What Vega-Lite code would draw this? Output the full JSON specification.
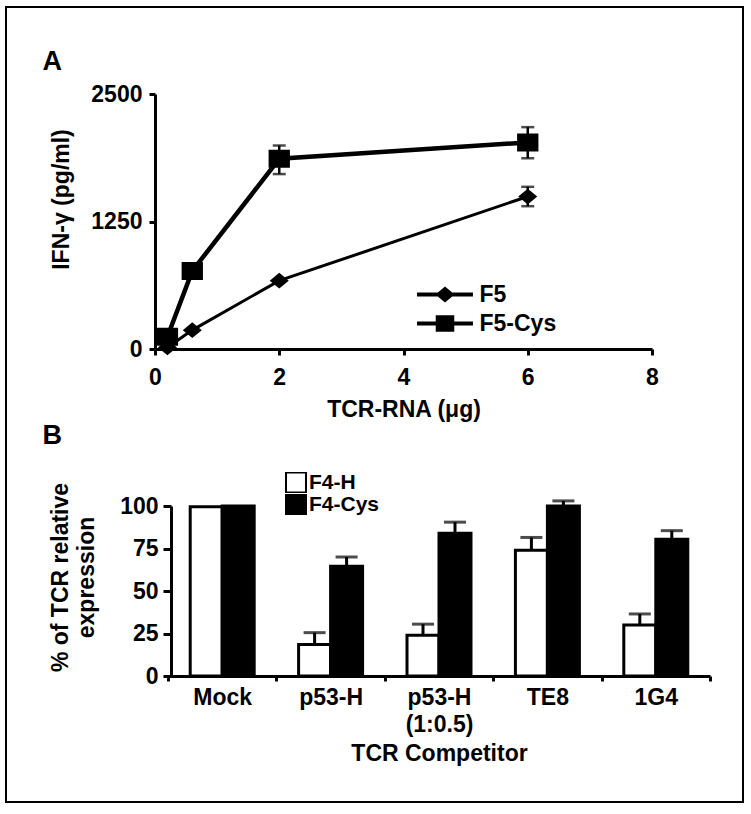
{
  "$schema": "https://vega.github.io/schema/vega-lite/v6.json",
  "width": 737,
  "height": 795,
  "autosize": {"type": "none"},
  "padding": {"left": 6, "top": 7, "right": 8, "bottom": 12},
  "background": "white",
  "datasets": {
    "ifn": [
      {"series": "F5", "dose": 0.2, "ifn": 15},
      {"series": "F5", "dose": 0.6, "ifn": 185},
      {"series": "F5", "dose": 2, "ifn": 670},
      {"series": "F5", "dose": 6, "ifn": 1495, "lo": 1400, "hi": 1590},
      {"series": "F5-Cys", "dose": 0.2, "ifn": 120},
      {"series": "F5-Cys", "dose": 0.6, "ifn": 765},
      {"series": "F5-Cys", "dose": 2, "ifn": 1865, "lo": 1715, "hi": 1995},
      {"series": "F5-Cys", "dose": 6, "ifn": 2025, "lo": 1870, "hi": 2175}
    ],
    "tcr": [
      {"comp": "Mock", "series": "F4-H", "val": 99.5},
      {"comp": "Mock", "series": "F4-Cys", "val": 100},
      {"comp": "p53-H", "series": "F4-H", "val": 18.5, "hi": 25.5},
      {"comp": "p53-H", "series": "F4-Cys", "val": 64.5, "hi": 70},
      {"comp": "p53-H (1:0.5)", "series": "F4-H", "val": 24, "hi": 30.5},
      {"comp": "p53-H (1:0.5)", "series": "F4-Cys", "val": 84, "hi": 90.5},
      {"comp": "TE8", "series": "F4-H", "val": 74, "hi": 81.5},
      {"comp": "TE8", "series": "F4-Cys", "val": 100, "hi": 103},
      {"comp": "1G4", "series": "F4-H", "val": 30, "hi": 36.5},
      {"comp": "1G4", "series": "F4-Cys", "val": 80.5, "hi": 85.5}
    ]
  },
  "config": {
    "view": {"stroke": "black", "strokeWidth": 2},
    "font": "Liberation Sans",
    "axis": {
      "grid": false,
      "domainColor": "black", "domainWidth": 3,
      "tickColor": "black", "tickWidth": 3,
      "labelColor": "black", "labelFont": "Liberation Sans", "labelFontSize": 23, "labelFontWeight": "bold",
      "titleColor": "black", "titleFont": "Liberation Sans", "titleFontSize": 23, "titleFontWeight": "bold",
      "labelFlush": false, "labelOverlap": false
    },
    "legend": {
      "labelColor": "black", "labelFont": "Liberation Sans", "labelFontSize": 23, "labelFontWeight": "bold",
      "padding": 0
    }
  },
  "resolve": {"scale": {"x": "independent", "y": "independent"}},
  "layer": [
    {
      "data": {"name": "ifn"},
      "resolve": {"scale": {"y": "independent"}},
      "layer": [
        {
          "layer": [
            {
              "mark": {"type": "line", "color": "black"},
              "encoding": {
                "x": {
                  "field": "dose", "type": "quantitative",
                  "scale": {"domain": [0, 8], "range": [149, 646], "nice": false, "zero": false},
                  "axis": {"orient": "bottom", "offset": -453, "values": [0, 2, 4, 6, 8], "format": "d", "tickSize": 6, "labelPadding": 11, "title": "TCR-RNA (μg)", "titlePadding": 9}
                },
                "y": {
                  "field": "ifn", "type": "quantitative",
                  "scale": {"domain": [0, 2500], "range": [342, 87], "nice": false},
                  "axis": {"orient": "left", "offset": -149, "values": [0, 1250, 2500], "format": "d", "tickSize": 6, "labelPadding": 7, "title": "IFN-γ (pg/ml)", "titlePadding": 17, "titleY": 192}
                },
                "strokeWidth": {
                  "field": "series", "type": "nominal",
                  "scale": {"type": "ordinal", "range": [3, 4.5]},
                  "legend": null
                }
              }
            },
            {
              "mark": {"type": "point", "filled": true, "color": "black", "strokeWidth": 4, "strokeOpacity": 0, "opacity": 1, "size": 1076},
              "encoding": {
                "x": {"field": "dose", "type": "quantitative"},
                "y": {"field": "ifn", "type": "quantitative"},
                "shape": {
                  "field": "series", "type": "nominal",
                  "scale": {"domain": ["F5", "F5-Cys"], "range": ["M-2.5,0H2.5M-0.58,0L0,-0.48L0.58,0L0,0.48Z", "M-2.5,0H2.5M-0.65,-0.55H0.65V0.55H-0.65Z"]},
                  "legend": {
                    "orient": "none", "legendX": 425.5, "legendY": 274, "title": null,
                    "symbolSize": 500, "symbolStrokeWidth": 4, "symbolStrokeColor": "black", "symbolFillColor": "black",
                    "labelOffset": 21, "rowPadding": 1
                  }
                },
                "stroke": {
                  "field": "series", "type": "nominal",
                  "scale": {"domain": ["F5", "F5-Cys"], "range": ["black", "black"]},
                  "legend": {
                    "orient": "none", "legendX": 425.5, "legendY": 274, "title": null,
                    "symbolSize": 500, "symbolStrokeWidth": 4, "symbolStrokeColor": "black", "symbolFillColor": "black",
                    "labelOffset": 21, "rowPadding": 1
                  }
                }
              }
            }
          ]
        },
        {
          "transform": [{"filter": "isValid(datum.hi)"}],
          "layer": [
            {
              "mark": {"type": "rule", "color": "black", "strokeWidth": 2.5},
              "encoding": {
                "x": {"field": "dose", "type": "quantitative"},
                "y": {
                  "field": "lo", "type": "quantitative",
                  "scale": {"domain": [0, 2500], "range": [342, 87], "nice": false},
                  "axis": {"orient": "left", "offset": 0, "domain": false, "ticks": false, "labels": false, "title": "A", "titleX": 36, "titleY": 62, "titleAngle": 0, "titleAlign": "left", "titleBaseline": "alphabetic", "titleFontSize": 27}
                },
                "y2": {"field": "hi"}
              }
            },
            {
              "mark": {"type": "tick", "orient": "horizontal", "color": "black", "size": 13, "thickness": 2.5},
              "encoding": {
                "x": {"field": "dose", "type": "quantitative"},
                "y": {"field": "hi", "type": "quantitative"}
              }
            },
            {
              "mark": {"type": "tick", "orient": "horizontal", "color": "black", "size": 13, "thickness": 2.5},
              "encoding": {
                "x": {"field": "dose", "type": "quantitative"},
                "y": {"field": "lo", "type": "quantitative"}
              }
            }
          ]
        }
      ]
    },
    {
      "data": {"name": "tcr"},
      "resolve": {"scale": {"y": "independent"}},
      "layer": [
        {
          "mark": {"type": "bar", "stroke": "black", "strokeWidth": 3},
          "encoding": {
            "x": {
              "field": "comp", "type": "nominal",
              "scale": {"domain": ["Mock", "p53-H", "p53-H (1:0.5)", "TE8", "1G4"], "range": [162, 704], "paddingInner": 0, "paddingOuter": 0},
              "axis": {"orient": "bottom", "offset": -126, "tickBand": "extent", "tickSize": 5, "labelPadding": 5, "labelAngle": 0, "labelLineHeight": 27,
                       "labelExpr": "datum.value === 'p53-H (1:0.5)' ? ['p53-H', '(1:0.5)'] : datum.value",
                       "title": "TCR Competitor", "titlePadding": 6}
            },
            "xOffset": {
              "field": "series", "type": "nominal",
              "scale": {"domain": ["F4-H", "F4-Cys"], "range": [0, 108.4], "paddingInner": 0, "paddingOuter": 0.694}
            },
            "y": {
              "field": "val", "type": "quantitative",
              "scale": {"domain": [0, 100], "range": [669, 499], "nice": false},
              "axis": {"orient": "left", "offset": -165, "values": [0, 25, 50, 75, 100], "tickSize": 8, "labelPadding": 5,
                       "title": ["% of TCR relative", "expression"], "titleLineHeight": 26, "titlePadding": 21, "titleY": 570}
            },
            "fill": {
              "field": "series", "type": "nominal",
              "scale": {"domain": ["F4-H", "F4-Cys"], "range": ["white", "black"]},
              "legend": {
                "orient": "none", "legendX": 279, "legendY": 465, "title": null,
                "symbolType": "square", "symbolSize": 400, "labelOffset": 2, "rowPadding": 0, "clipHeight": 21,
                "labelFontSize": 21,
                "symbolStrokeColor": "black", "symbolStrokeWidth": 2
              }
            }
          }
        },
        {
          "transform": [{"filter": "isValid(datum.hi)"}],
          "layer": [
            {
              "mark": {"type": "rule", "color": "black", "strokeWidth": 3},
              "encoding": {
                "x": {"field": "comp", "type": "nominal"},
                "xOffset": {"field": "series", "type": "nominal"},
                "y": {
                  "field": "val", "type": "quantitative",
                  "scale": {"domain": [0, 100], "range": [669, 499], "nice": false},
                  "axis": {"orient": "left", "offset": 0, "domain": false, "ticks": false, "labels": false, "title": "B", "titleX": 36, "titleY": 436, "titleAngle": 0, "titleAlign": "left", "titleBaseline": "alphabetic", "titleFontSize": 27}
                },
                "y2": {"field": "hi"}
              }
            },
            {
              "mark": {"type": "tick", "orient": "horizontal", "color": "black", "size": 22, "thickness": 3},
              "encoding": {
                "x": {"field": "comp", "type": "nominal"},
                "xOffset": {"field": "series", "type": "nominal"},
                "y": {"field": "hi", "type": "quantitative"}
              }
            }
          ]
        }
      ]
    }
  ]
}
